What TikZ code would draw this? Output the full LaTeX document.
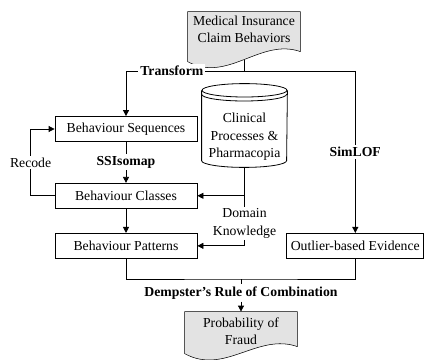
\documentclass[tikz,border=0pt]{standalone}
\usepackage{fontspec}
\setmainfont{Liberation Serif}
\usepackage{tikz}
\usetikzlibrary{arrows.meta, positioning, calc, backgrounds}

% document symbol: #1 node, #2 left depth, #3 right depth
\newcommand{\docshape}[3]{%
  \begin{scope}[on background layer]
    \draw[fill=gray!22] (#1.north east) -- (#1.north west) -- ($(#1.north west)+(0,-#2)$)
      .. controls +(40,-22) and +(-40,14) .. ($(#1.north east)+(0,-#3)$)
      coordinate[pos=0.5] (#1-tail) -- cycle;
  \end{scope}}

\begin{document}
\begin{tikzpicture}[
    x=0.75pt, y=0.75pt,
    font=\fontsize{10.3}{13}\selectfont,
    line width=0.6pt,
    proc/.style={rectangle, draw, minimum width=106.5pt, minimum height=18.75pt, inner sep=2pt},
    doc/.style={rectangle, minimum width=84pt, align=center, inner sep=1pt},
    tag/.style={fill=white, inner sep=1.5pt, align=center},
    arr/.style={-{Triangle[length=4.5pt, width=4.5pt]}},
]
\useasboundingbox (0,0) rectangle (425,-360);

% Input and output documents
\node[doc, minimum height=25.5pt] (claims) at (244,-29) {Medical Insurance\\Claim Behaviors};
\node[doc, minimum height=29.25pt] (prob) at (241,-331.5) {Probability of\\Fraud};
\docshape{claims}{50}{40}
\docshape{prob}{42}{35}

% Behaviour chain
\node[proc] (seq) at (126,-129) {Behaviour Sequences};
\node[proc, below=30.75pt of seq] (cls) {Behaviour Classes};
\node[proc, below=18.2pt of cls] (pat) {Behaviour Patterns};
\node[proc, right=66.75pt of pat, minimum width=102.75pt] (outl) {Outlier-based Evidence};

% Domain database
\node[align=center, minimum width=63.75pt, minimum height=45pt, inner sep=0pt] (clin) at (244.5,-137)
  {Clinical\\Processes \&\\Pharmacopia};
\draw ($(clin.north west)+(0,16.3)$) -- ($(clin.south west)+(0,6.7)$)
  arc[start angle=180, end angle=360, x radius=42.5, y radius=6.7]
  -- ($(clin.north east)+(0,16.3)$);
\draw ($(clin.north)+(0,16.3)$) ellipse[x radius=42.5, y radius=6.7];
\draw ($(clin.north west)+(0,12.3)$) arc[start angle=180, end angle=360, x radius=42.5, y radius=6.7];

\node[align=center, inner sep=1pt] (dk) at (244.5,-223.5) {Domain\\Knowledge};
\node[inner sep=1.5pt] (dr) at (241,-293) {\textbf{Dempster’s Rule of Combination}};

\coordinate (tl) at (126,-71);
\coordinate (cj) at (241,-279);

% Connections
\draw (claims-tail) -- (claims-tail |- tl);
\draw[arr] (outl.north |- tl) -- node[tag, pos=0.8] {\textbf{Transform}} (tl) -- (seq.north);
\draw[arr] (outl.north |- tl) -- node[tag] {\textbf{SimLOF}} (outl.north);
\draw[arr] (seq) -- node[tag] {\textbf{SSIsomap}} (cls);
\draw[arr] (cls.west) -- ++(-24,0) |- node[tag, pos=0.25] {Recode} (seq.west);
\draw[arr] (cls) -- (pat);
\draw (clin.south) -- (dk.north);
\draw[arr] (clin.south |- cls.east) -- (cls.east);
\draw[arr] (dk.south) |- (pat.east);
\draw (pat.south) |- (cj) -| (outl.south);
\draw (cj) -- (dr.north);
\draw[arr] (dr.south) -- (prob.north);

\end{tikzpicture}
\end{document}
